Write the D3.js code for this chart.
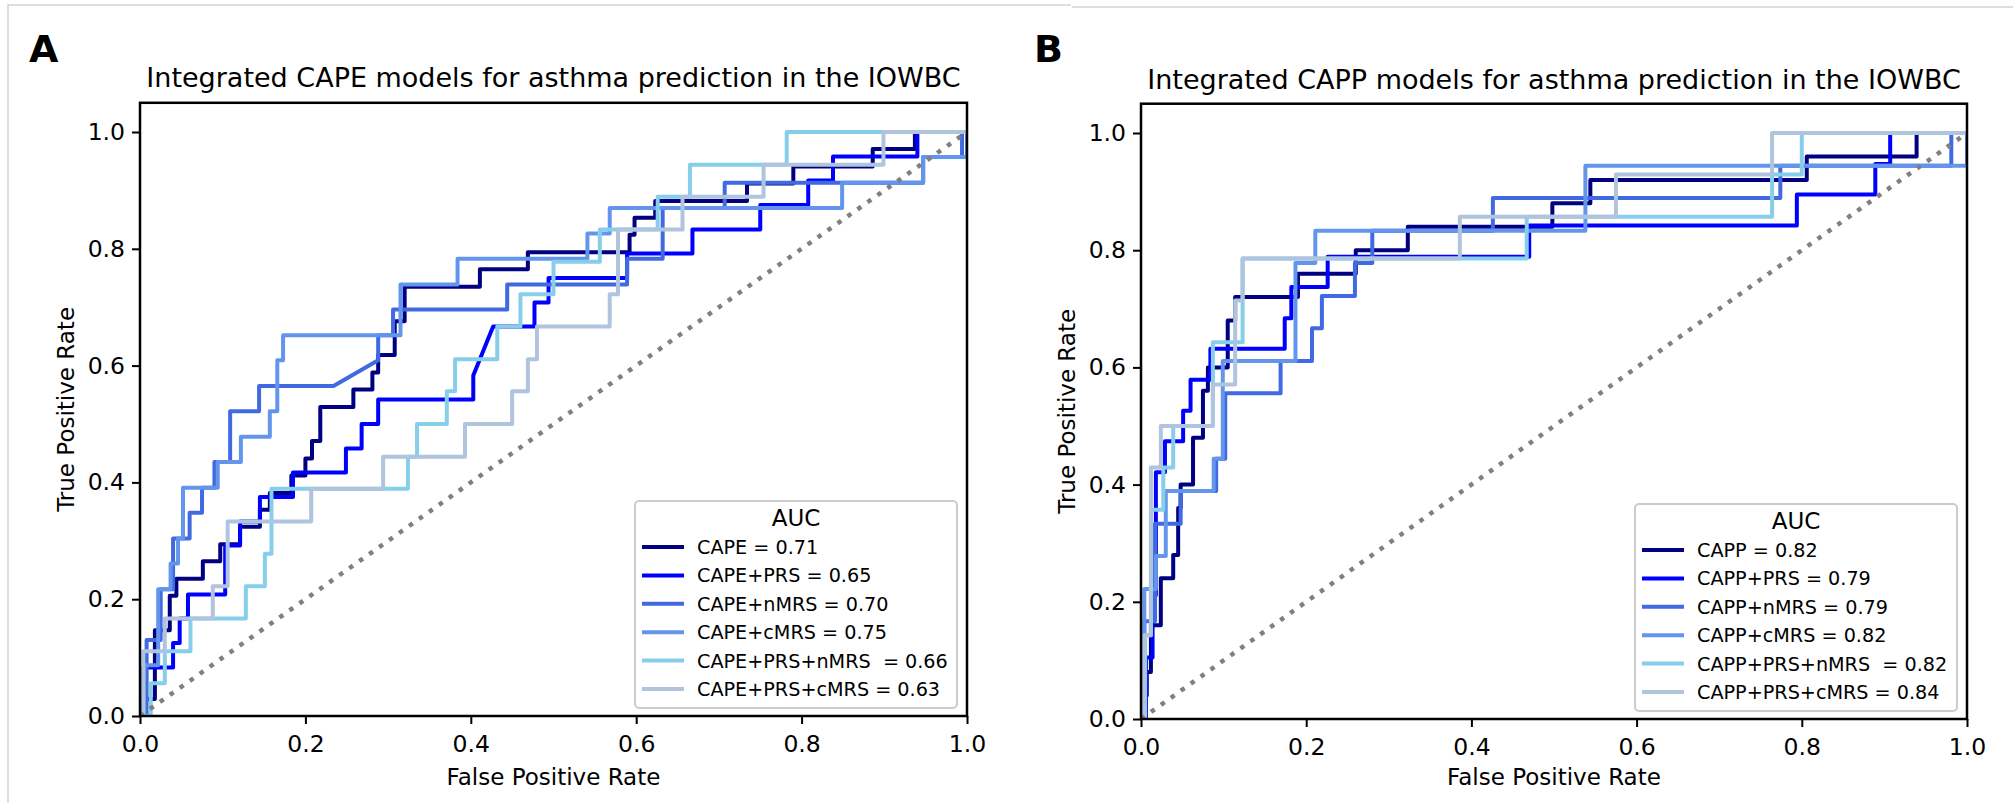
<!DOCTYPE html>
<html>
<head>
<meta charset="utf-8">
<script src="https://cdn.jsdelivr.net/npm/d3@7"></script>
<style>
  body { margin: 0; background: #fff; }
  svg { display: block; }
  text { font-family: "DejaVu Sans", sans-serif; fill: #000; }
</style>
</head>
<body>
<svg id="chart" width="2013" height="803"></svg>
<script>
// tick values shared by both panels
const xTicks = [0, 0.2, 0.4, 0.6, 0.8, 1.0]
const yTicks = [0, 0.2, 0.4, 0.6, 0.8, 1.0]

const curveColors = ['#000080', '#0000ff', '#4169e1', '#6495ed', '#87ceeb', '#b0c4de']

// panel A legend labels
const capeLabels = ['CAPE = 0.71', 'CAPE+PRS = 0.65', 'CAPE+nMRS = 0.70', 'CAPE+cMRS = 0.75', 'CAPE+PRS+nMRS  = 0.66', 'CAPE+PRS+cMRS = 0.63']
// panel B legend labels
const cappLabels = ['CAPP = 0.82', 'CAPP+PRS = 0.79', 'CAPP+nMRS = 0.79', 'CAPP+cMRS = 0.82', 'CAPP+PRS+nMRS  = 0.82', 'CAPP+PRS+cMRS = 0.84']

// ROC corner points [fpr, tpr]
const capeRoc = [[0,0],[0.004,0],[0.004,0.029],[0.018,0.029],[0.018,0.147],[0.036,0.147],[0.036,0.206],[0.044,0.206],[0.044,0.235],[0.076,0.235],[0.076,0.265],[0.097,0.265],[0.097,0.294],[0.121,0.294],[0.121,0.324],[0.145,0.324],[0.145,0.353],[0.157,0.353],[0.157,0.382],[0.183,0.382],[0.183,0.412],[0.2,0.412],[0.2,0.441],[0.208,0.441],[0.208,0.471],[0.218,0.471],[0.218,0.529],[0.258,0.529],[0.258,0.559],[0.281,0.559],[0.281,0.588],[0.288,0.588],[0.288,0.618],[0.308,0.618],[0.308,0.676],[0.32,0.676],[0.32,0.735],[0.411,0.735],[0.411,0.765],[0.469,0.765],[0.469,0.794],[0.592,0.794],[0.592,0.824],[0.598,0.824],[0.598,0.853],[0.623,0.853],[0.623,0.882],[0.734,0.882],[0.734,0.912],[0.79,0.912],[0.79,0.941],[0.886,0.941],[0.886,0.971],[0.937,0.971],[0.937,1],[1,1]]
const capePrsRoc = [[0,0],[0.004,0],[0.004,0.083],[0.04,0.083],[0.04,0.125],[0.048,0.125],[0.048,0.167],[0.058,0.167],[0.058,0.208],[0.103,0.208],[0.103,0.292],[0.121,0.292],[0.121,0.333],[0.145,0.333],[0.145,0.375],[0.185,0.375],[0.185,0.417],[0.249,0.417],[0.249,0.458],[0.268,0.458],[0.268,0.5],[0.288,0.5],[0.288,0.542],[0.403,0.542],[0.403,0.583],[0.427,0.667],[0.477,0.667],[0.477,0.708],[0.494,0.708],[0.494,0.75],[0.589,0.75],[0.589,0.792],[0.668,0.792],[0.668,0.833],[0.75,0.833],[0.75,0.875],[0.808,0.875],[0.808,0.917],[0.838,0.917],[0.838,0.958],[0.94,0.958],[0.94,1],[1,1]]
const capeNmrsRoc = [[0,0],[0.008,0],[0.008,0.13],[0.025,0.13],[0.025,0.217],[0.04,0.217],[0.04,0.304],[0.06,0.304],[0.06,0.348],[0.075,0.348],[0.075,0.391],[0.09,0.391],[0.09,0.435],[0.109,0.435],[0.109,0.522],[0.144,0.522],[0.144,0.565],[0.234,0.565],[0.288,0.609],[0.288,0.652],[0.306,0.652],[0.306,0.696],[0.444,0.696],[0.444,0.739],[0.589,0.739],[0.589,0.783],[0.632,0.783],[0.632,0.87],[0.707,0.87],[0.707,0.913],[0.947,0.913],[0.947,0.957],[0.994,0.957],[0.994,1],[1,1]]
const capeCmrsRoc = [[0,0],[0.005,0],[0.005,0.087],[0.022,0.087],[0.022,0.217],[0.037,0.217],[0.037,0.261],[0.046,0.261],[0.046,0.304],[0.052,0.304],[0.052,0.391],[0.094,0.391],[0.094,0.435],[0.122,0.435],[0.122,0.478],[0.157,0.478],[0.157,0.522],[0.166,0.522],[0.166,0.609],[0.173,0.609],[0.173,0.652],[0.315,0.652],[0.315,0.739],[0.384,0.739],[0.384,0.783],[0.541,0.783],[0.541,0.826],[0.568,0.826],[0.568,0.87],[0.849,0.87],[0.849,0.913],[0.947,0.913],[0.947,0.957],[1,0.957],[1,1]]
const capePrsNmrsRoc = [[0,0],[0.013,0],[0.013,0.056],[0.03,0.056],[0.03,0.111],[0.061,0.111],[0.061,0.167],[0.128,0.167],[0.128,0.222],[0.151,0.222],[0.151,0.278],[0.159,0.278],[0.159,0.389],[0.324,0.389],[0.324,0.444],[0.335,0.444],[0.335,0.5],[0.371,0.5],[0.371,0.556],[0.381,0.556],[0.381,0.611],[0.432,0.611],[0.432,0.667],[0.46,0.667],[0.46,0.722],[0.5,0.722],[0.5,0.778],[0.556,0.778],[0.556,0.833],[0.626,0.833],[0.626,0.889],[0.665,0.889],[0.665,0.944],[0.782,0.944],[0.782,1],[1,1]]
const capePrsCmrsRoc = [[0,0],[0.004,0],[0.004,0.111],[0.03,0.111],[0.03,0.167],[0.088,0.167],[0.088,0.222],[0.106,0.222],[0.106,0.333],[0.207,0.333],[0.207,0.389],[0.294,0.389],[0.294,0.444],[0.393,0.444],[0.393,0.5],[0.45,0.5],[0.45,0.556],[0.469,0.556],[0.469,0.611],[0.48,0.611],[0.48,0.667],[0.568,0.667],[0.568,0.722],[0.578,0.722],[0.578,0.833],[0.656,0.833],[0.656,0.889],[0.754,0.889],[0.754,0.944],[0.899,0.944],[0.899,1],[1,1]]

const cappRoc = [[0,0],[0.003,0],[0.003,0.04],[0.007,0.04],[0.007,0.08],[0.012,0.08],[0.012,0.16],[0.024,0.16],[0.024,0.24],[0.039,0.24],[0.039,0.28],[0.045,0.28],[0.045,0.36],[0.048,0.36],[0.048,0.4],[0.063,0.4],[0.063,0.48],[0.075,0.48],[0.075,0.56],[0.081,0.56],[0.081,0.6],[0.105,0.6],[0.105,0.68],[0.114,0.68],[0.114,0.72],[0.19,0.72],[0.19,0.76],[0.26,0.76],[0.26,0.8],[0.323,0.8],[0.323,0.84],[0.498,0.84],[0.498,0.88],[0.544,0.88],[0.544,0.92],[0.806,0.92],[0.806,0.96],[0.939,0.96],[0.939,1],[1,1]]
const cappPrsRoc = [[0,0],[0.006,0],[0.006,0.105],[0.014,0.105],[0.014,0.211],[0.018,0.211],[0.018,0.421],[0.029,0.421],[0.029,0.474],[0.051,0.474],[0.051,0.526],[0.06,0.526],[0.06,0.579],[0.084,0.579],[0.084,0.632],[0.174,0.632],[0.174,0.684],[0.182,0.684],[0.182,0.737],[0.226,0.737],[0.226,0.789],[0.47,0.789],[0.47,0.842],[0.794,0.842],[0.794,0.895],[0.889,0.895],[0.889,0.947],[0.907,0.947],[0.907,1],[1,1]]
const cappNmrsRoc = [[0,0],[0.004,0],[0.004,0.167],[0.017,0.167],[0.017,0.333],[0.048,0.333],[0.048,0.389],[0.091,0.389],[0.091,0.444],[0.102,0.444],[0.102,0.556],[0.169,0.556],[0.169,0.611],[0.207,0.611],[0.207,0.667],[0.219,0.667],[0.219,0.722],[0.259,0.722],[0.259,0.778],[0.28,0.778],[0.28,0.833],[0.426,0.833],[0.426,0.889],[0.774,0.889],[0.774,0.944],[0.981,0.944],[0.981,1],[1,1]]
const cappCmrsRoc = [[0,0],[0.004,0],[0.004,0.222],[0.018,0.222],[0.018,0.278],[0.03,0.278],[0.03,0.389],[0.088,0.389],[0.088,0.444],[0.099,0.444],[0.099,0.611],[0.187,0.611],[0.187,0.778],[0.211,0.778],[0.211,0.833],[0.538,0.833],[0.538,0.944],[1,0.944],[1,1]]
const cappPrsNmrsRoc = [[0,0],[0.005,0],[0.005,0.143],[0.012,0.143],[0.012,0.357],[0.027,0.357],[0.027,0.429],[0.039,0.429],[0.039,0.5],[0.087,0.5],[0.087,0.643],[0.123,0.643],[0.123,0.786],[0.467,0.786],[0.467,0.857],[0.764,0.857],[0.764,0.929],[0.8,0.929],[0.8,1],[1,1]]
const cappPrsCmrsRoc = [[0,0],[0.004,0],[0.004,0.143],[0.012,0.143],[0.012,0.429],[0.024,0.429],[0.024,0.5],[0.087,0.5],[0.087,0.571],[0.114,0.571],[0.114,0.714],[0.123,0.714],[0.123,0.786],[0.386,0.786],[0.386,0.857],[0.575,0.857],[0.575,0.929],[0.764,0.929],[0.764,1],[1,1]]

const chanceLine = [[0, 0], [1, 1]]

const panels = [
  {
    letter: 'A',
    title: 'Integrated CAPE models for asthma prediction in the IOWBC',
    curves: [capeRoc, capePrsRoc, capeNmrsRoc, capeCmrsRoc, capePrsNmrsRoc, capePrsCmrsRoc],
    labels: capeLabels,
    left: 140, right: 967, bottom: 716, unit: 584,
    letterX: 29, titleY: 87
  },
  {
    letter: 'B',
    title: 'Integrated CAPP models for asthma prediction in the IOWBC',
    curves: [cappRoc, cappPrsRoc, cappNmrsRoc, cappCmrsRoc, cappPrsNmrsRoc, cappPrsCmrsRoc],
    labels: cappLabels,
    left: 1141, right: 1967, bottom: 719, unit: 586,
    letterX: 1034, titleY: 89
  }
]

const svg = d3.select('#chart')

// faint frame lines of the original figure
svg.append('path')
  .attr('d', 'M8,803V5H1071M1072,7H2013')
  .attr('fill', 'none')
  .attr('stroke', '#d4d4d4')
  .attr('stroke-width', 1.5)

const drawPanel = (p, idx) => {
  const x = d3.scaleLinear().domain([0, 1]).range([p.left, p.right])
  const y = d3.scaleLinear().domain([0, 1.05]).range([p.bottom, p.bottom - p.unit * 1.05])
  const top = y(1.05)
  const g = svg.append('g')

  g.append('clipPath').attr('id', 'clip' + idx)
    .append('rect')
    .attr('x', p.left).attr('y', top)
    .attr('width', p.right - p.left).attr('height', p.bottom - top)

  const line = d3.line().x(d => x(d[0])).y(d => y(d[1]))

  const plot = g.append('g').attr('clip-path', `url(#clip${idx})`)
  plot.selectAll('path.roc')
    .data(p.curves)
    .join('path')
    .attr('class', 'roc')
    .attr('d', line)
    .attr('fill', 'none')
    .attr('stroke', (d, i) => curveColors[i])
    .attr('stroke-width', 4)
    .attr('stroke-linejoin', 'round')

  plot.append('path')
    .datum(chanceLine)
    .attr('d', line)
    .attr('fill', 'none')
    .attr('stroke', '#808080')
    .attr('stroke-width', 4.5)
    .attr('stroke-dasharray', '4.5,7.7')

  // axes
  const fmt = d3.format('.1f')
  const gx = g.append('g')
    .attr('transform', `translate(0,${p.bottom})`)
    .call(d3.axisBottom(x).tickValues(xTicks).tickFormat(fmt).tickSize(8).tickPadding(11))
  const gy = g.append('g')
    .attr('transform', `translate(${p.left},0)`)
    .call(d3.axisLeft(y).tickValues(yTicks).tickFormat(fmt).tickSize(8).tickPadding(7))
  ;[gx, gy].forEach(a => {
    a.select('.domain').remove()
    a.attr('font-family', null).attr('font-size', null)
    a.selectAll('line').attr('stroke', '#000').attr('stroke-width', 2)
    a.selectAll('text').attr('font-size', 23.5).attr('fill', '#000')
  })

  // spines
  g.append('rect')
    .attr('x', p.left).attr('y', top)
    .attr('width', p.right - p.left).attr('height', p.bottom - top)
    .attr('fill', 'none')
    .attr('stroke', '#000')
    .attr('stroke-width', 2.5)

  // labels
  g.append('text')
    .attr('x', (p.left + p.right) / 2).attr('y', p.titleY)
    .attr('text-anchor', 'middle')
    .attr('font-size', 27)
    .text(p.title)
  g.append('text')
    .attr('x', p.letterX).attr('y', 62)
    .attr('font-size', 38).attr('font-weight', 'bold')
    .text(p.letter)
  g.append('text')
    .attr('x', (p.left + p.right) / 2).attr('y', 785)
    .attr('text-anchor', 'middle')
    .attr('font-size', 23)
    .text('False Positive Rate')
  g.append('text')
    .attr('transform', `translate(${p.left - 66},${(top + p.bottom) / 2}) rotate(-90)`)
    .attr('text-anchor', 'middle')
    .attr('font-size', 23)
    .text('True Positive Rate')

  // legend
  const lw = 322, lh = 207
  const lx = p.right - 10 - lw
  const ly = p.bottom - 8 - lh
  const leg = g.append('g')
  leg.append('rect')
    .attr('x', lx).attr('y', ly).attr('width', lw).attr('height', lh)
    .attr('rx', 4)
    .attr('fill', '#fff').attr('fill-opacity', 0.85)
    .attr('stroke', '#cccccc').attr('stroke-width', 2)
  leg.append('text')
    .attr('x', lx + lw / 2).attr('y', ly + 25)
    .attr('text-anchor', 'middle')
    .attr('font-size', 23)
    .text('AUC')
  const rows = leg.selectAll('g.row')
    .data(p.labels)
    .join('g')
    .attr('class', 'row')
    .attr('transform', (d, i) => `translate(${lx},${ly + 46 + 28.4 * i})`)
  rows.append('line')
    .attr('x1', 7).attr('x2', 49)
    .attr('stroke', (d, i) => curveColors[i])
    .attr('stroke-width', 4)
  rows.append('text')
    .attr('x', 62).attr('y', 7)
    .attr('font-size', 19.2)
    .attr('xml:space', 'preserve')
    .text(d => d)
}

panels.forEach(drawPanel)
</script>
</body>
</html>
